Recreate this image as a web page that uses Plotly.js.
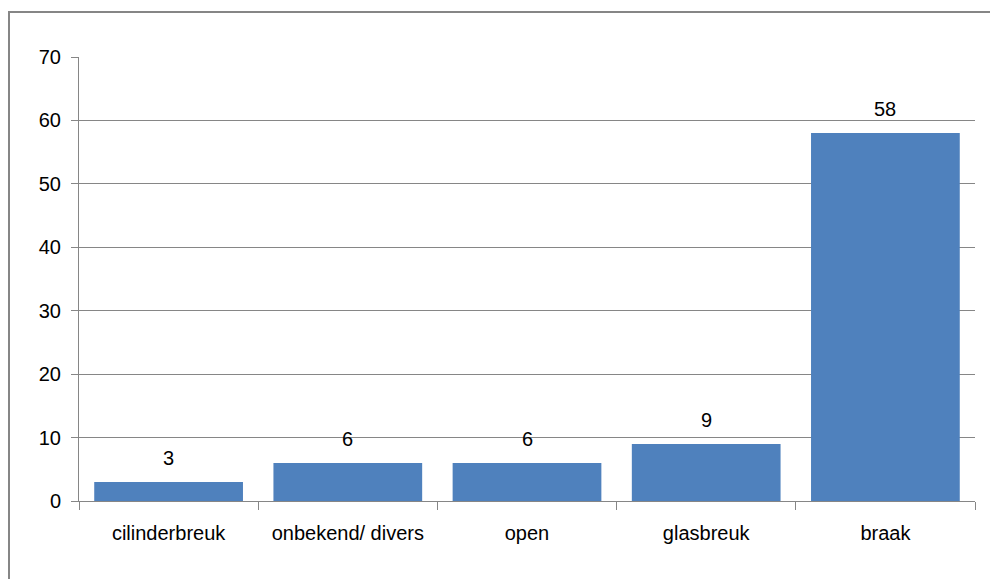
<!DOCTYPE html>
<html>
<head>
<meta charset="utf-8">
<script src="https://cdn.plot.ly/plotly-3.0.1.min.js"></script>
<style>html,body{margin:0;padding:0;background:#fff;}#chart{width:990px;height:579px;}</style>
</head>
<body>
<div id="chart"></div>
<script>
const categories = ["cilinderbreuk", "onbekend/ divers", "open", "glasbreuk", "braak"];
const values = [3, 6, 6, 9, 58];
const yTicks = [0, 10, 20, 30, 40, 50, 60, 70];

const W = 990, H = 579;
const m = {l: 79, r: 15, t: 57, b: 78};
const pw = W - m.l - m.r, ph = H - m.t - m.b;
const font = "'Liberation Sans Narrow', 'Arial Narrow', sans-serif";

const trace = {
  type: "bar",
  x: categories,
  y: values,
  marker: {color: "#4F81BD"},
  hoverinfo: "none"
};

const labels = categories.map((c, i) => ({
  x: c, y: values[i], xref: "x", yref: "y",
  text: String(values[i]), showarrow: false,
  yanchor: "bottom", yshift: 11,
  font: {family: font, size: 20, color: "#000"}
}));

const layout = {
  width: W, height: H,
  margin: m,
  paper_bgcolor: "#fff",
  plot_bgcolor: "#fff",
  showlegend: false,
  bargap: 0.17,
  font: {family: font, size: 20, color: "#000"},
  annotations: labels,
  xaxis: {
    type: "category",
    showline: true, linecolor: "#868686", linewidth: 1,
    ticks: "outside", tickson: "boundaries", ticklen: 8, tickcolor: "#868686",
    ticklabelstandoff: 14,
    showgrid: false,
    tickfont: {family: font, size: 20, color: "#000"},
    automargin: false
  },
  yaxis: {
    range: [0, 70],
    tickvals: yTicks,
    showline: true, linecolor: "#868686", linewidth: 1,
    ticks: "outside", ticklen: 7, tickcolor: "#868686",
    ticklabelstandoff: 6,
    showgrid: true, gridcolor: "#868686", gridwidth: 1,
    zeroline: false,
    tickfont: {family: font, size: 20, color: "#000"},
    automargin: false
  },
  shapes: [{
    type: "rect", xref: "paper", yref: "paper",
    x0: (9 - m.l) / pw, x1: (W + 20 - m.l) / pw,
    y0: -(H + 20 - m.t - ph) / ph, y1: (H - m.b - 12) / ph,
    line: {color: "#868686", width: 2}, fillcolor: "rgba(0,0,0,0)", layer: "below"
  }]
};

Plotly.newPlot("chart", [trace], layout, {staticPlot: true, displayModeBar: false});
</script>
</body>
</html>
